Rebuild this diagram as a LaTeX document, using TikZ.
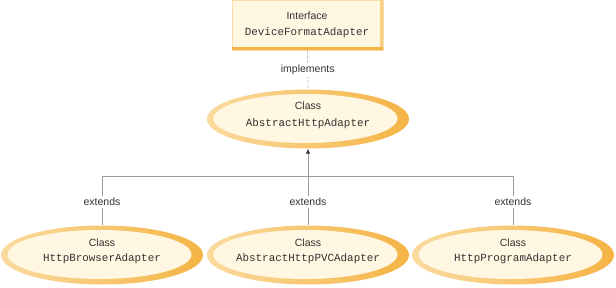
\documentclass[tikz,border=0pt]{standalone}
\usepackage{fontspec}
\setsansfont{Liberation Sans}
\setmonofont{Liberation Mono}
\usetikzlibrary{shapes.geometric,arrows.meta}
\definecolor{cream}{HTML}{FFF7E1}
\definecolor{ringL}{HTML}{FADA9F}
\definecolor{ringD}{HTML}{F5B444}
\definecolor{boxL}{HTML}{F8DCA6}
\definecolor{boxR}{HTML}{F9CF86}
\definecolor{boxB}{HTML}{F5B545}
\definecolor{lineG}{HTML}{9C9C9C}
\definecolor{dashG}{HTML}{BDBDBD}
\definecolor{txt}{HTML}{333333}
\begin{document}
\begin{tikzpicture}[x=1pt,y=-1pt,
  cls/.style={ellipse, minimum width=202pt, minimum height=59pt, inner sep=0pt,
    left color=ringL, right color=ringD, draw=none,
    path picture={\fill[cream] ([xshift=-2.5pt,yshift=0.5pt]path picture bounding box.center)
      ellipse [x radius=92pt, y radius=24.5pt];}},
  ifbox/.style={rectangle, minimum width=151pt, minimum height=50pt, inner sep=0pt,
    fill=cream, draw=boxL, line width=0.8pt},
  sf/.style={font=\sffamily\fontsize{10.5}{12}\selectfont, text=txt, inner sep=0pt},
  mono/.style={font=\ttfamily\fontsize{10.9}{12}\selectfont, text=txt, inner sep=0pt},
  lbl/.style={font=\sffamily\fontsize{10.5}{12}\selectfont, text=txt, fill=white, inner sep=2pt},
  conn/.style={draw=lineG, line width=0.8pt},
  impl/.style={draw=dashG, line width=0.8pt, dash pattern=on 3pt off 2pt},
  tip/.style={-{Latex[length=5pt,width=4.5pt,color=black!80]}}
]
\useasboundingbox (0,0) rectangle (616,287);

% interface box
\node[ifbox] (iface) at (307.5,25) {};
\draw[boxR, line width=3pt] ([xshift=-1.5pt]iface.north east) -- ([xshift=-1.5pt]iface.south east);
\draw[boxB, line width=3pt] ([yshift=1.5pt]iface.south west) -- ([yshift=1.5pt]iface.south east);
\node[sf] (ifT1) at (307,16) {Interface};
\node[mono] (ifT2) at (307,33) {DeviceFormatAdapter};

% abstract class
\node[cls] (abs) at (308,119) {};
\node[sf] (absT1) at (308,106) {Class};
\node[mono] (absT2) at (308,124) {AbstractHttpAdapter};

% subclasses
\node[cls] (b1) at (102,255) {};
\node[sf] (b1T1) at (102,243) {Class};
\node[mono] (b1T2) at (102,259) {HttpBrowserAdapter};

\node[cls] (b2) at (308,255) {};
\node[sf] (b2T1) at (308,243) {Class};
\node[mono] (b2T2) at (308,259) {AbstractHttpPVCAdapter};

\node[cls] (b3) at (513,255) {};
\node[sf] (b3T1) at (513,243) {Class};
\node[mono] (b3T2) at (513,259) {HttpProgramAdapter};

% connectors
\draw[impl] (iface.south) -- node[lbl] (implT) {implements} (abs.north);

\coordinate (bar) at (308,176);
\draw[conn, tip] (bar) -- (abs.south);
\draw[conn] (b1.north) -- node[lbl, pos=0.47] (ext1) {extends} (b1.north |- bar)
  -- (b3.north |- bar) -- node[lbl, pos=0.53] (ext3) {extends} (b3.north);
\draw[conn] (b2.north) -- node[lbl, pos=0.47] (ext2) {extends} (bar);
\end{tikzpicture}
\end{document}
